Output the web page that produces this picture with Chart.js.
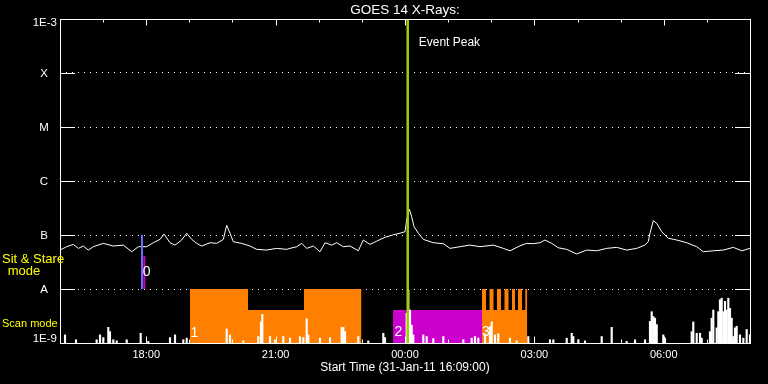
<!DOCTYPE html>
<html>
<head>
<meta charset="utf-8">
<title>GOES 14 X-Rays</title>
<script src="https://cdn.jsdelivr.net/npm/chart.js@4.4.0/dist/chart.umd.min.js"></script>
<style>
  html, body { margin: 0; padding: 0; background: #000; }
  canvas { display: block; background: #000; }
</style>
</head>
<body>
<canvas id="chart" width="768" height="384"></canvas>
<script>
'use strict';

// time is in hours from 01-Feb-11 00:00 (window starts 31-Jan-11 16:09)
const startHour = -7.85;
const endHour = 8.15;
const peakHour = 0.213;

const tickValues = [1e-9, 1e-8, 1e-7, 1e-6, 1e-5, 1e-4, 1e-3];
const tickLabels = ['1E-9', 'A', 'B', 'C', 'M', 'X', '1E-3'];

// GOES long channel flux (W/m2)
const fluxTimes = [
  -7.850, -7.695, -7.542, -7.426, -7.310, -7.194, -7.078, -6.846, -6.614, -6.382,
  -6.187, -6.034, -5.840, -5.687, -5.531, -5.438, -5.299, -5.183, -5.028, -4.912,
  -4.796, -4.680, -4.564, -4.372, -4.216, -4.063, -3.985, -3.908, -3.831, -3.637,
  -3.444, -3.289, -3.057, -2.825, -2.593, -2.517, -2.361, -2.246, -2.130, -1.976,
  -1.821, -1.705, -1.550, -1.434, -1.281, -1.125, -0.933, -0.817, -0.662, -0.506,
  -0.314, -0.121, 0.034, 0.150, 0.189, 0.250, 0.305, 0.359, 0.458, 0.574,
  0.806, 1.038, 1.193, 1.425, 1.657, 1.889, 2.198, 2.429, 2.585, 2.817,
  2.972, 3.125, 3.280, 3.396, 3.552, 3.705, 3.900, 4.131, 4.363, 4.595,
  4.827, 5.059, 5.291, 5.523, 5.716, 5.792, 5.831, 5.908, 5.987, 6.103,
  6.256, 6.450, 6.682, 6.914, 7.067, 7.299, 7.531, 7.763, 7.958, 8.150
];
const fluxValues = [
  5.26e-8, 6.07e-8, 6.7e-8, 5.65e-8, 6.25e-8, 5.26e-8, 6.07e-8, 7.0e-8, 6.25e-8, 6.5e-8,
  4.9e-8, 6.07e-8, 6.07e-8, 7.2e-8, 8.3e-8, 1.04e-7, 7.2e-8, 6.5e-8, 8.07e-8, 1.08e-7,
  8.3e-8, 7.0e-8, 6.25e-8, 7.2e-8, 7.0e-8, 8.3e-8, 1.51e-7, 1.08e-7, 7.5e-8, 7.0e-8,
  6.25e-8, 5.42e-8, 5.26e-8, 5.65e-8, 5.42e-8, 5.65e-8, 6.07e-8, 7.0e-8, 5.65e-8, 6.25e-8,
  4.9e-8, 7.2e-8, 6.5e-8, 7.2e-8, 6.07e-8, 6.25e-8, 5.1e-8, 8.07e-8, 6.7e-8, 7.7e-8,
  9.06e-8, 1.01e-7, 1.08e-7, 1.15e-7, 1.9e-7, 3.0e-7, 2.19e-7, 1.43e-7, 1.08e-7, 8.3e-8,
  7.2e-8, 6.9e-8, 5.65e-8, 6.07e-8, 6.5e-8, 6.07e-8, 6.5e-8, 5.65e-8, 5.1e-8, 6.3e-8,
  7.0e-8, 6.9e-8, 7.2e-8, 8.07e-8, 7.0e-8, 5.8e-8, 5.42e-8, 4.45e-8, 5.26e-8, 5.1e-8,
  5.65e-8, 5.9e-8, 5.26e-8, 5.65e-8, 6.5e-8, 7.6e-8, 1.08e-7, 1.84e-7, 1.65e-7, 1.15e-7,
  8.7e-8, 8.07e-8, 7.2e-8, 6.07e-8, 4.9e-8, 5.1e-8, 5.26e-8, 5.9e-8, 5.1e-8, 5.65e-8
];

// scan-mode counts, in fractions of the bottom band
const scanTimes = [
  -7.734, -7.479, -7.000, -6.922, -6.846, -6.730, -6.691, -6.614, -6.535, -6.303,
  -5.979, -5.802, -5.299, -5.183, -4.991, -4.912, -3.985, -3.908, -3.600, -3.252,
  -3.189, -3.159, -2.980, -2.864, -2.672, -2.517, -2.285, -2.208, -2.130, -2.092,
  -1.821, -1.589, -1.318, -1.281, -1.241, -0.933, -0.701, -0.353, -0.314, 0.189,
  0.227, 0.266, 0.305, 0.342, 0.574, 0.653, 0.806, 1.038, 1.502, 1.697,
  1.773, 1.850, 2.005, 2.121, 2.160, 2.237, 2.313, 2.585, 2.740, 3.009,
  3.512, 3.589, 3.900, 4.016, 4.053, 4.169, 4.324, 4.711, 4.943, 5.291,
  5.484, 5.716, 5.831, 5.871, 5.908, 5.947, 5.987, 6.139, 6.179, 6.798,
  6.835, 6.914, 6.991, 7.030, 7.222, 7.261, 7.299, 7.377, 7.415, 7.454,
  7.493, 7.531, 7.570, 7.608, 7.647, 7.686, 7.725, 7.763, 7.802, 7.841,
  7.918, 7.995, 8.073, 8.150
];
const scanCounts = [
  0.15, 0.06, 0.06, 0.15, 0.10, 0.29, 0.21, 0.06, 0.04, 0.06,
  0.18, 0.03, 0.10, 0.15, 0.06, 0.09, 0.26, 0.15, 0.04, 0.12,
  0.39, 0.53, 0.12, 0.06, 0.12, 0.09, 0.12, 0.10, 0.45, 0.15,
  0.09, 0.10, 0.29, 0.29, 0.21, 0.12, 0.04, 0.18, 0.10, 0.55,
  0.98, 0.61, 0.33, 0.15, 0.15, 0.12, 0.08, 0.12, 0.06, 0.09,
  0.12, 0.09, 0.17, 0.30, 0.39, 0.15, 0.17, 0.09, 0.04, 0.12,
  0.06, 0.06, 0.09, 0.18, 0.12, 0.06, 0.04, 0.12, 0.29, 0.03,
  0.06, 0.06, 0.40, 0.58, 0.49, 0.46, 0.34, 0.15, 0.09, 0.21,
  0.39, 0.18, 0.18, 0.09, 0.21, 0.46, 0.61, 0.28, 0.58, 0.80,
  0.83, 0.58, 0.77, 0.61, 0.83, 0.64, 0.46, 0.12, 0.28, 0.31,
  0.15, 0.09, 0.25, 0.15
];

// observing blocks (band fraction, value holds until next time)
const scan1Times = [-4.836, -3.491, -2.192, -0.859];
const scan1Levels = [1, 0.61, 1, 0];
const stareTimes = [-0.128, 1.936];
const stareLevels = [0.61, 0];
const scan3Times = [1.936, 2.028, 2.110, 2.202, 2.283, 2.376, 2.457, 2.550, 2.631, 2.701, 2.770, 2.863, 2.940, 2.986];
const scan3Levels = [1, 0.61, 1, 0.61, 1, 0.61, 1, 0.61, 1, 0.61, 1, 0.61, 1, 0];

// sit & stare pointing marks
const stareLineTime = -5.949;
const stareLineFlux = [1e-7, 1e-8];
const stareMarkTime = -5.895;
const stareMarkFlux = [4.07e-8, 1e-8];

const modeLabels = ['0', '1', '2', '3'];
const modeLabelTimes = [-5.840, -4.731, -0.001, 2.028];
const modeLabelLevels = [1.317, 0.186, 0.204, 0.204];

const pts = (xs, ys) => xs.map((x, i) => ({ x: x, y: ys[i] }));

const FONT = '"Liberation Sans", Arial, sans-serif';
Chart.defaults.font.family = FONT;
Chart.defaults.color = '#ffffff';

const goesFrame = {
  id: 'goesFrame',
  afterDraw(chart) {
    const { ctx, chartArea: a, scales } = chart;
    const xs = scales.x, ys = scales.y, yb = scales.yb;
    ctx.save();
    ctx.strokeStyle = '#ffffff';
    ctx.lineWidth = 1;
    ctx.strokeRect(a.left + 0.5, a.top + 0.5, a.right - a.left, a.bottom - a.top);
    ctx.beginPath();
    xs.ticks.forEach(t => {
      const px = Math.round(xs.getPixelForValue(t.value)) + 0.5;
      const len = Math.round(t.value) % 3 === 0 ? 6.5 : 3.5;
      ctx.moveTo(px, a.top);
      ctx.lineTo(px, a.top + len);
      ctx.moveTo(px, a.bottom);
      ctx.lineTo(px, a.bottom - len);
    });
    ys.ticks.forEach(t => {
      const py = Math.round(ys.getPixelForValue(t.value)) + 0.5;
      ctx.moveTo(a.left, py);
      ctx.lineTo(a.left + 15, py);
      ctx.moveTo(a.right - 15, py);
      ctx.lineTo(a.right, py);
    });
    ctx.stroke();

    // y tick labels: decade numbers at the ends, flare classes centred
    ctx.fillStyle = '#ffffff';
    ctx.textBaseline = 'middle';
    ctx.font = '11.5px ' + FONT;
    ys.ticks.forEach((t, i) => {
      const py = ys.getPixelForValue(t.value);
      const lab = tickLabels[i];
      if (lab.length > 1) {
        ctx.textAlign = 'right';
        ctx.fillText(lab, a.left - 3, py + (i === 0 ? -4 : 3.5));
      } else {
        ctx.textAlign = 'center';
        ctx.fillText(lab, 44, py + 0.5);
      }
    });

    ctx.fillStyle = '#ffff00';
    ctx.textAlign = 'left';
    ctx.font = '13px ' + FONT;
    ctx.fillText('Sit & Stare', 2, 259);
    ctx.textAlign = 'center';
    ctx.fillText('mode', 24, 271);
    ctx.textAlign = 'left';
    ctx.font = '11px ' + FONT;
    ctx.fillText('Scan mode', 2, 324);

    ctx.fillStyle = '#ffffff';
    ctx.font = '12px ' + FONT;
    ctx.fillText('Event Peak', xs.getPixelForValue(peakHour) + 11, a.top + 24);

    ctx.font = '14px ' + FONT;
    ctx.textAlign = 'center';
    modeLabels.forEach((lab, i) => {
      ctx.fillText(lab, xs.getPixelForValue(modeLabelTimes[i]), yb.getPixelForValue(modeLabelLevels[i]));
    });
    ctx.restore();
  }
};

const block = (label, xs, ys, color) => ({
  label: label,
  data: pts(xs, ys),
  stepped: 'before',
  fill: 'origin',
  backgroundColor: color,
  borderWidth: 0,
  pointRadius: 0,
  yAxisID: 'yb',
  order: 4
});

new Chart(document.getElementById('chart'), {
  type: 'line',
  data: {
    datasets: [
      {
        label: 'Event Peak',
        data: pts([peakHour, peakHour], [1e-9, 1e-3]),
        borderColor: '#a0d000',
        borderWidth: 2.5,
        pointRadius: 0,
        yAxisID: 'y',
        order: 0
      },
      {
        label: 'Sit & Stare pointing',
        data: pts([stareLineTime, stareLineTime], stareLineFlux),
        borderColor: '#6a6aff',
        borderWidth: 2,
        pointRadius: 0,
        yAxisID: 'y',
        order: 1
      },
      {
        label: 'Sit & Stare mark',
        data: pts([stareMarkTime, stareMarkTime], stareMarkFlux),
        borderColor: '#cc00cc',
        borderWidth: 2,
        pointRadius: 0,
        yAxisID: 'y',
        order: 1
      },
      {
        label: 'GOES 14',
        data: pts(fluxTimes, fluxValues),
        borderColor: '#ffffff',
        borderWidth: 1,
        pointRadius: 0,
        tension: 0,
        yAxisID: 'y',
        order: 2
      },
      {
        type: 'bar',
        label: 'Scan counts',
        data: pts(scanTimes, scanCounts),
        backgroundColor: '#ffffff',
        barThickness: 1.5,
        yAxisID: 'yb',
        order: 3
      },
      block('Scan 1', scan1Times, scan1Levels, '#ff8000'),
      block('Stare 2', stareTimes, stareLevels, '#cc00cc'),
      block('Scan 3', scan3Times, scan3Levels, '#ff8000')
    ]
  },
  options: {
    responsive: false,
    animation: false,
    devicePixelRatio: 1,
    layout: { padding: { top: 0, right: 18, bottom: 0, left: 0 } },
    plugins: {
      legend: { display: false },
      tooltip: { enabled: false },
      title: {
        display: true,
        text: 'GOES 14 X-Rays:',
        fullSize: false,
        color: '#ffffff',
        font: { size: 13.5, weight: 'normal' },
        padding: { top: 2, bottom: 0.8 }
      }
    },
    scales: {
      x: {
        type: 'linear',
        min: startHour,
        max: endHour,
        offset: false,
        grid: { display: false, drawTicks: false },
        border: { display: false },
        ticks: {
          stepSize: 1,
          includeBounds: false,
          autoSkip: false,
          maxRotation: 0,
          padding: 5,
          color: '#ffffff',
          font: { size: 11 },
          callback: v => {
            const h = Math.round(v);
            if (h % 3 !== 0) return '';
            const hh = ((h % 24) + 24) % 24;
            return String(hh).padStart(2, '0') + ':00';
          }
        },
        title: {
          display: true,
          text: 'Start Time (31-Jan-11 16:09:00)',
          color: '#ffffff',
          font: { size: 12 },
          padding: { top: 0, bottom: 9 }
        },
        afterFit: s => { s.height = 41; }
      },
      y: {
        type: 'logarithmic',
        position: 'left',
        min: 1e-9,
        max: 1e-3,
        afterBuildTicks: s => { s.ticks = tickValues.map(v => ({ value: v })); },
        grid: { color: '#ffffff', lineWidth: 1, drawTicks: false },
        border: { display: false, dash: [1, 5] },
        ticks: { display: false },
        afterFit: s => { s.width = 60; }
      },
      yb: {
        type: 'linear',
        display: false,
        min: 0,
        max: 6
      }
    }
  },
  plugins: [goesFrame]
});
</script>
</body>
</html>
